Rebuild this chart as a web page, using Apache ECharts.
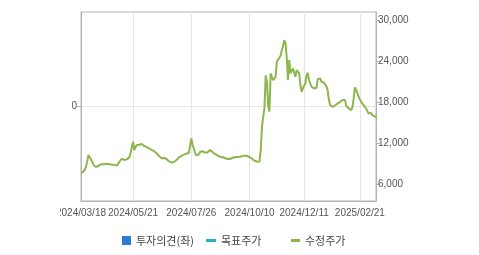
<!DOCTYPE html>
<html><head><meta charset="utf-8">
<script src="https://cdn.jsdelivr.net/npm/echarts@6/dist/echarts.min.js"></script>
<style>
html,body{margin:0;padding:0;background:#fff;}
#wrap{position:absolute;left:60px;top:0;width:419px;height:255px;overflow:hidden;}
#chart{position:absolute;left:-60px;top:0;width:479px;height:255px;}
</style></head>
<body><div id="wrap"><div id="chart"></div></div>
<script>
// Trading-day categories (KRX), 2024-03-18 .. 2025-03-13
const startDate = '2024-03-18';
const endDate = '2025-03-13';
const holidays = ['2024-04-10','2024-05-01','2024-05-06','2024-05-15','2024-06-06','2024-08-15',
  '2024-09-16','2024-09-17','2024-09-18','2024-10-01','2024-10-03','2024-10-09','2024-12-25','2024-12-31',
  '2025-01-01','2025-01-27','2025-01-28','2025-01-29','2025-01-30','2025-03-03'];
const tickDates = ['2024/03/18','2024/05/21','2024/07/26','2024/10/10','2024/12/11','2025/02/21'];
const rightTicks = [6000,12000,18000,24000,30000];
const leftTicks = [0];
const seriesNames = ['투자의견(좌)','목표주가','수정주가'];
const adjPrice = [
 7600,7700,7800,8100,8500,9300,10240,9950,9600,9250,
 8900,8600,8400,8500,8700,8800,8850,8900,8850,8880,
 8900,8950,8880,8900,8850,8800,8750,8800,8700,8680,
 8900,9260,9500,9700,9850,9500,9450,9600,9660,9900,
 10540,10800,12190,10970,11400,11700,11800,11750,11900,11850,
 11700,11560,11500,11400,11300,11220,11100,11000,10900,10800,
 10730,10500,10240,10100,9900,9750,9700,9800,9800,9650,
 9500,9300,9120,9150,9200,9220,9350,9500,9700,9900,
 9990,10100,10200,10300,10390,10450,10500,10540,10700,12690,
 11700,11200,10600,10200,9990,10300,10680,10700,10800,10830,
 10600,10390,10600,10800,10970,10800,10700,10540,10400,10300,
 10200,10100,10000,10000,9950,9900,9800,9700,9650,9610,
 9650,9700,9800,9850,9900,9950,9950,9950,9980,9990,
 10050,10100,10150,10200,10100,10000,9950,9900,9700,9550,
 9410,9350,9300,9280,9260,11000,14380,15850,17070,21900,
 21000,17500,16600,22200,21700,21200,21200,21700,23900,24200,
 24400,24800,25600,26200,27070,26600,24500,21200,24140,22200,
 22600,22930,22300,21700,22680,22400,22200,20500,19500,20000,
 20260,20730,21950,22290,21200,20700,20260,20100,20000,20000,
 20100,21360,21200,21460,20970,20900,20850,20820,20300,19750,
 18290,17560,17400,17300,17310,17500,17650,17800,17900,18000,
 18040,18300,18540,18290,17410,17200,17070,16950,16830,17310,
 18500,20150,19750,19300,18780,18400,18040,17800,17560,17300,
 17070,16700,16340,16580,16400,16100,16000,15900,15760,15700
];

function pad(n){return n<10?'0'+n:''+n;}
const categories = [];
(function(){
  const d = new Date(startDate+'T00:00:00Z');
  const e = new Date(endDate+'T00:00:00Z');
  while (d <= e) {
    const wd = d.getUTCDay();
    const iso = d.getUTCFullYear()+'-'+pad(d.getUTCMonth()+1)+'-'+pad(d.getUTCDate());
    if (wd !== 0 && wd !== 6 && holidays.indexOf(iso) < 0) categories.push(iso.replace(/-/g,'/'));
    d.setUTCDate(d.getUTCDate()+1);
  }
})();

const showTick = (idx, val) => tickDates.indexOf(val) >= 0;
const fmt = v => String(v).replace(/\B(?=(\d{3})+(?!\d))/g, ',');
const font = "'Liberation Sans', Arial, sans-serif";
const krFont = "'Noto Sans CJK KR', sans-serif";
const axisGray = '#b4b4b4';

const chart = echarts.init(document.getElementById('chart'), null, {renderer:'canvas'});
chart.setOption({
  animation:false,
  grid:{left:81, top:12, right:103, bottom:54, show:true, borderColor:axisGray, borderWidth:1},
  xAxis:{
    type:'category', data:categories, boundaryGap:false,
    axisLine:{onZero:false, lineStyle:{color:axisGray}},
    axisTick:{show:false},
    axisLabel:{interval:showTick, color:'#555', fontSize:10, fontFamily:font, margin:7, showMinLabel:true},
    splitLine:{show:true, interval:showTick, lineStyle:{color:'#e6e6e6'}}
  },
  yAxis:[
    {type:'value', position:'left', min:-1, max:1,
     axisLine:{show:true, onZero:false, lineStyle:{color:axisGray}},
     axisTick:{show:true, length:4, customValues:leftTicks, lineStyle:{color:axisGray}},
     axisLabel:{customValues:leftTicks, color:'#555', fontSize:10, fontFamily:font, margin:4},
     splitLine:{show:true, lineStyle:{color:'#e6e6e6'}}},
    {type:'value', position:'right', min:3500, max:31200,
     axisLine:{show:true, onZero:false, lineStyle:{color:axisGray}},
     axisTick:{show:true, length:4, customValues:rightTicks, lineStyle:{color:axisGray}},
     axisLabel:{customValues:rightTicks, color:'#555', fontSize:10, fontFamily:font, margin:2, formatter:fmt},
     splitLine:{show:false}}
  ],
  legend:[
    {left:117, top:230, itemWidth:9, itemHeight:9, icon:'rect', data:[seriesNames[0]],
     textStyle:{fontSize:11, fontFamily:krFont, color:'#444'}},
    {left:201, top:230, itemWidth:10, itemHeight:3, icon:'rect', data:[seriesNames[1]],
     textStyle:{fontSize:11, fontFamily:krFont, color:'#444'}},
    {left:286, top:230, itemWidth:9, itemHeight:3, icon:'rect', data:[seriesNames[2]],
     textStyle:{fontSize:11, fontFamily:krFont, color:'#444'}}
  ],
  series:[
    {name:seriesNames[0], type:'bar', yAxisIndex:0, data:[], itemStyle:{color:'#2e7bd6'}},
    {name:seriesNames[1], type:'line', yAxisIndex:1, data:[], itemStyle:{color:'#29adc4'}, lineStyle:{color:'#29adc4'}},
    {name:seriesNames[2], type:'line', yAxisIndex:1, data:adjPrice, showSymbol:false, symbol:'none',
     itemStyle:{color:'#8db64c'}, lineStyle:{color:'#8db64c', width:2}}
  ]
});
</script></body></html>
